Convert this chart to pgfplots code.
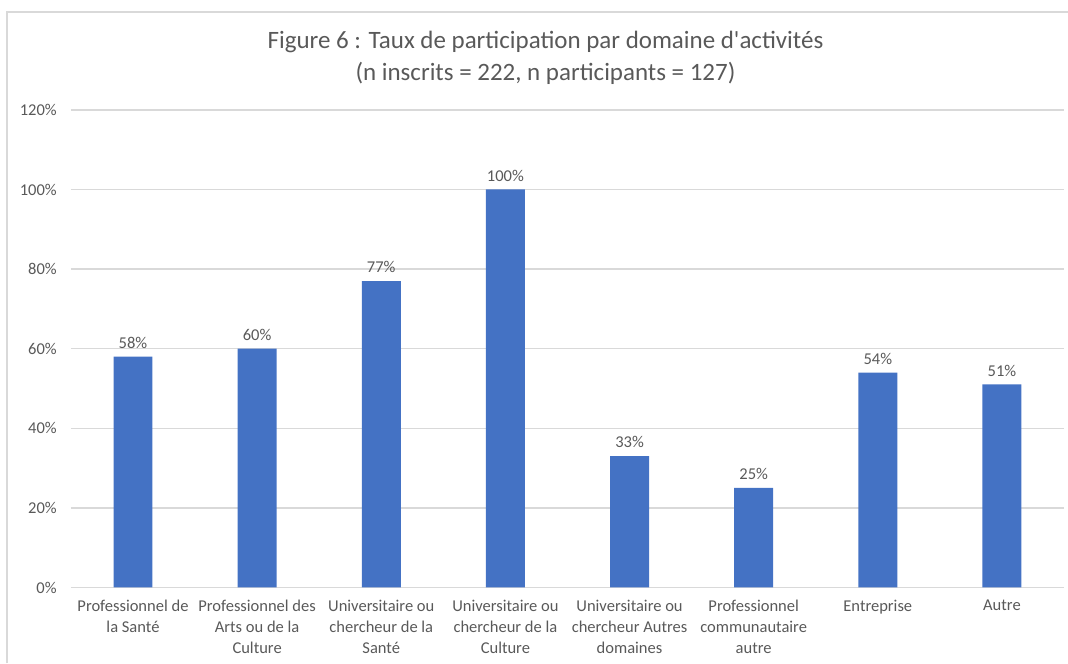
\documentclass[border=0pt]{standalone}
\usepackage{pgfplots}
\pgfplotsset{compat=1.18}
\usepackage{fontspec}
\setmainfont{Carlito}

\definecolor{barblue}{HTML}{4472C4}
\definecolor{txtgray}{HTML}{595959}
\definecolor{gridgray}{HTML}{D9D9D9}

\begin{document}
\begin{tikzpicture}
\useasboundingbox (-53.25pt,-57pt) rectangle (748.5pt,441pt);
% chart frame (only top and left edges are visible)
\draw[gridgray, line width=1.2pt] (-48pt,-57pt) -- (-48pt,432pt) -- (748.5pt,432pt);

\begin{axis}[
    at={(0,0)}, anchor=south west,
    scale only axis,
    width=745.5pt, height=358.5pt,
    xmin=-0.5, xmax=7.5,
    ymin=0, ymax=120,
    axis line style={draw=none},
    major tick length=0pt,
    ymajorgrids,
    major grid style={gridgray, line width=1.1pt},
    ytick={0,20,40,60,80,100,120},
    yticklabels={0\%,20\%,40\%,60\%,80\%,100\%,120\%},
    yticklabel style={font=\fontsize{12.4}{15}\selectfont, text=txtgray, inner sep=0pt, xshift=-10.5pt},
    xtick={0,...,7},
    xticklabels={
        {Professionnel de\\la Santé},
        {Professionnel des\\Arts ou de la\\Culture},
        {Universitaire ou\\chercheur de la\\Santé},
        {Universitaire ou\\chercheur de la\\Culture},
        {Universitaire ou\\chercheur Autres\\domaines},
        {Professionnel\\communautaire\\autre},
        {Entreprise},
        {Autre}},
    xticklabel style={font=\fontsize{12.4}{15.75}\selectfont, text=txtgray, align=center, inner sep=0pt, anchor=north, yshift=-9pt},
    nodes near coords={\pgfmathprintnumber[assume math mode=true]{\pgfplotspointmeta}\%},
    every node near coord/.append style={font=\fontsize{12.4}{15}\selectfont, text=txtgray, inner sep=0pt, yshift=6pt},
    clip=false,
]
\addplot[ybar, bar width=29.25pt, fill=barblue, draw=none] coordinates {
    (0,58) (1,60) (2,77) (3,100) (4,33) (5,25) (6,54) (7,51)
};
\end{axis}

\node[text=txtgray, font=\fontsize{18.75}{23}\selectfont] at (356.25pt,409.5pt) {Figure 6 : Taux de participation par domaine d\textquotesingle activités};
\node[text=txtgray, font=\fontsize{18.75}{23}\selectfont] at (356.25pt,386.25pt) {(n inscrits = 222, n participants = 127)};
\end{tikzpicture}
\end{document}
